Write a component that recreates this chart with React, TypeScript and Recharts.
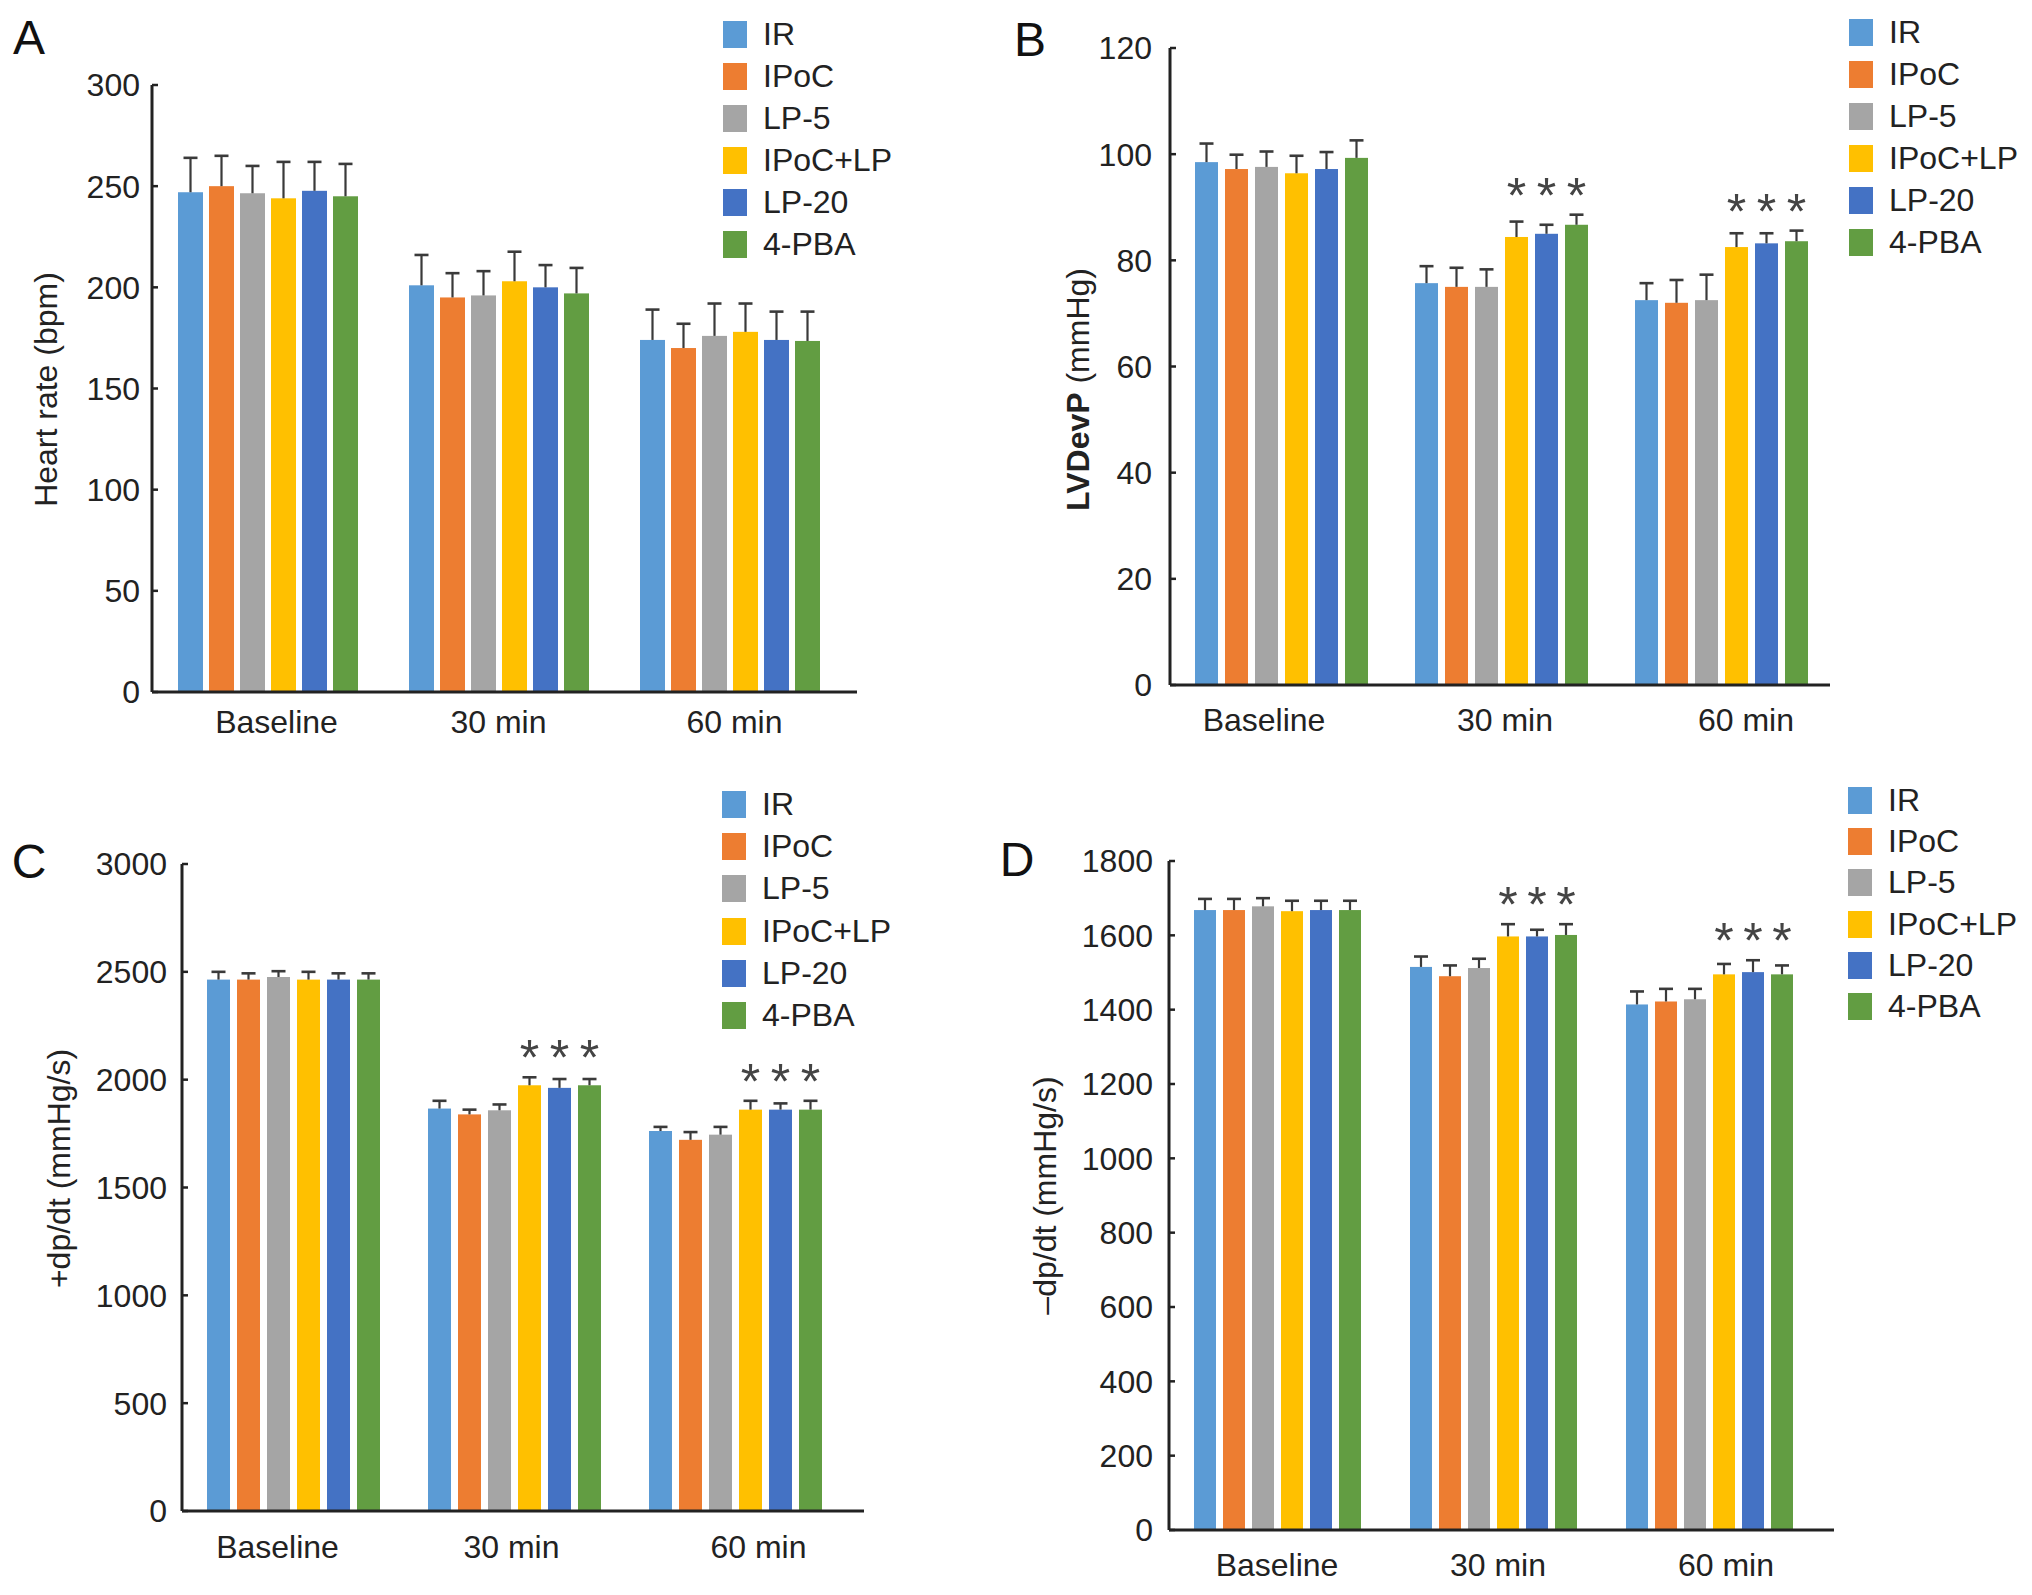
import React from 'react';
import { BarChart, Bar, XAxis, YAxis, Legend, Label } from 'recharts';

const FONT = '"Liberation Sans", Arial, Helvetica, sans-serif';
const INK = '#222222';
const WHISKER = '#3a3a3a';

const categories = ['Baseline', '30 min', '60 min'];
const groups = ['IR', 'IPoC', 'LP-5', 'IPoC+LP', 'LP-20', '4-PBA'];
const groupColors = ['#5B9BD5', '#ED7D31', '#A5A5A5', '#FFC000', '#4472C4', '#629D42'];
const starredGroups = ['IPoC+LP', 'LP-20', '4-PBA'];

// rows = categories, columns = groups
const heartRateMean = [
  [247, 250, 246.5, 244, 247.7, 245],
  [201, 195, 196, 203, 200, 197],
  [174, 170, 176, 178, 174, 173.5],
];
const heartRateSD = [
  [17, 15, 13.5, 18, 14.3, 16],
  [15, 12, 12, 14.6, 11, 12.6],
  [15, 12, 16, 14, 14, 14.5],
];
const heartRateStars = [false, false, false];
const heartRateTicks = [0, 50, 100, 150, 200, 250, 300];

const lvdevpMean = [
  [98.5, 97.2, 97.6, 96.4, 97.2, 99.3],
  [75.7, 75, 75, 84.4, 85, 86.7],
  [72.5, 72, 72.5, 82.5, 83.2, 83.6],
];
const lvdevpSD = [
  [3.5, 2.7, 2.9, 3.3, 3.2, 3.3],
  [3.2, 3.6, 3.3, 2.9, 1.7, 1.9],
  [3.2, 4.3, 4.8, 2.6, 1.9, 2.0],
];
const lvdevpStars = [false, true, true];
const lvdevpTicks = [0, 20, 40, 60, 80, 100, 120];

const plusDpMean = [
  [2464, 2464, 2476, 2464, 2464, 2464],
  [1866, 1839, 1858, 1974, 1962, 1974],
  [1762, 1721, 1745, 1861, 1861, 1861],
];
const plusDpSD = [
  [36, 29, 27, 36, 29, 29],
  [36, 22, 27, 37, 41, 29],
  [19, 36, 36, 41, 29, 41],
];
const plusDpStars = [false, true, true];
const plusDpTicks = [0, 500, 1000, 1500, 2000, 2500, 3000];

const minusDpMean = [
  [1668, 1668, 1678, 1665, 1668, 1668],
  [1515, 1490, 1512, 1597, 1597, 1601],
  [1414, 1422, 1428, 1495, 1501, 1495],
];
const minusDpSD = [
  [30, 30, 22, 28, 25, 25],
  [28, 29, 25, 33, 18, 29],
  [35, 34, 28, 28, 32, 24],
];
const minusDpStars = [false, true, true];
const minusDpTicks = [0, 200, 400, 600, 800, 1000, 1200, 1400, 1600, 1800];

function buildRows(mean: number[][], sd: number[][], stars: boolean[]) {
  return categories.map((name, i) => {
    const row: any = { name, starred: stars[i] };
    groups.forEach((g, j) => {
      row[g] = mean[i][j];
      row[g + ' sd'] = sd[i][j];
    });
    return row;
  });
}

// bar + upper whisker + significance star, all scaled off the bar the library laid out
function makeBarShape(key: string) {
  return (props: any) => {
    const { x, y, width, height, fill, payload } = props;
    const v = payload[key];
    const k = v ? height / v : 0;
    const base = y + height;
    const cx = x + width / 2;
    const ey = base - (v + payload[key + ' sd']) * k;
    let star = null;
    if (payload.starred && starredGroups.includes(key)) {
      const maxHi = Math.max(...starredGroups.map((g) => payload[g] + payload[g + ' sd']));
      const sy = base - maxHi * k;
      star = (
        <text x={cx} y={sy - 2} textAnchor="middle" fontSize={50} fill="#444" fontFamily={FONT}>
          *
        </text>
      );
    }
    return (
      <g>
        <rect x={x} y={y} width={width} height={height} fill={fill} />
        <line x1={cx} y1={y} x2={cx} y2={ey} stroke={WHISKER} strokeWidth={2.2} />
        <line x1={cx - 7} y1={ey} x2={cx + 7} y2={ey} stroke={WHISKER} strokeWidth={2.6} />
        {star}
      </g>
    );
  };
}

const panels = [
  {
    letter: 'A', letterX: 29, letterY: 38,
    left: 0, top: 0, width: 1016, height: 780,
    margin: { top: 85, right: 159, bottom: 48, left: 52 },
    rows: buildRows(heartRateMean, heartRateSD, heartRateStars),
    ticks: heartRateTicks, padRight: 12, catGap: 26, barGap: 6, tickMargin: 18,
    label: ['', 'Heart rate (bpm)'], labelDist: 106, labelDy: 1,
    xShift: [9, 0, 5], xDy: 30,
    legendLeft: 723, legendTop: 13, legendRow: 42,
  },
  {
    letter: 'B', letterX: 1030, letterY: 40,
    left: 1016, top: 0, width: 1016, height: 780,
    margin: { top: 48, right: 202, bottom: 55, left: 54 },
    rows: buildRows(lvdevpMean, lvdevpSD, lvdevpStars),
    ticks: lvdevpTicks, padRight: 0, catGap: 25, barGap: 7, tickMargin: 24,
    label: ['LVDevP', ' (mmHg)'], labelDist: 92, labelDy: 23,
    xShift: [-16, 5, 26], xDy: 35,
    legendLeft: 833, legendTop: 11, legendRow: 42,
  },
  {
    letter: 'C', letterX: 29, letterY: 862,
    left: 0, top: 780, width: 1016, height: 815,
    margin: { top: 84, right: 152, bottom: 44, left: 82 },
    rows: buildRows(plusDpMean, plusDpSD, plusDpStars),
    ticks: plusDpTicks, padRight: 19, catGap: 25, barGap: 7, tickMargin: 21,
    label: ['', '+dp/dt (mmHg/s)'], labelDist: 123, labelDy: -19,
    xShift: [-15, -2, 24], xDy: 36,
    legendLeft: 722, legendTop: 3, legendRow: 42.3,
  },
  {
    letter: 'D', letterX: 1017, letterY: 860,
    left: 1016, top: 780, width: 1016, height: 815,
    margin: { top: 81, right: 198, bottom: 25, left: 53 },
    rows: buildRows(minusDpMean, minusDpSD, minusDpStars),
    ticks: minusDpTicks, padRight: 17, catGap: 25, barGap: 7, tickMargin: 22,
    label: ['', '–dp/dt (mmHg/s)'], labelDist: 124, labelDy: 0,
    xShift: [0, 5, 17], xDy: 35,
    legendLeft: 832, legendTop: 0, legendRow: 41.2,
  },
];

function LegendList({ payload, rowH }: any) {
  const items = [...(payload || [])].sort(
    (a: any, b: any) => groups.indexOf(a.value) - groups.indexOf(b.value)
  );
  return (
    <div style={{ fontFamily: FONT, fontSize: 32, color: INK }}>
      {items.map((e: any) => (
        <div key={e.value} style={{ display: 'flex', alignItems: 'center', height: rowH, whiteSpace: 'nowrap' }}>
          <span style={{ display: 'inline-block', width: 24, height: 27, background: e.color, marginRight: 16 }} />
          <span>{e.value}</span>
        </div>
      ))}
    </div>
  );
}

function Panel({ p }: any) {
  const yAxisWidth = 100;
  const yMax = p.ticks[p.ticks.length - 1];
  return (
    <div style={{ position: 'absolute', left: p.left, top: p.top, width: p.width, height: p.height }}>
      <BarChart
        width={p.width}
        height={p.height}
        data={p.rows}
        margin={p.margin}
        barCategoryGap={p.catGap}
        barGap={p.barGap}
      >
        <XAxis
          dataKey="name"
          height={40}
          padding={{ left: 0, right: p.padRight }}
          axisLine={{ stroke: INK, strokeWidth: 3 }}
          tickLine={false}
          tickSize={0}
          tickMargin={0}
          interval={0}
          tick={(t: any) => (
            <text
              x={t.x + p.xShift[t.index]}
              y={t.y + p.xDy}
              textAnchor="middle"
              dominantBaseline="central"
              fontSize={32}
              fill={INK}
              fontFamily={FONT}
            >
              {t.payload.value}
            </text>
          )}
        />
        <YAxis
          width={yAxisWidth}
          domain={[0, yMax]}
          ticks={p.ticks}
          interval={0}
          allowDataOverflow
          axisLine={{ stroke: INK, strokeWidth: 3 }}
          tickLine={{ stroke: INK, strokeWidth: 2.5 }}
          tickSize={-6}
          tickMargin={p.tickMargin}
          tick={{ fontSize: 32, fill: INK, fontFamily: FONT }}
        >
          <Label
            content={(lp: any) => {
              const vb = lp.viewBox;
              const cx = vb.x + vb.width - p.labelDist;
              const cy = vb.y + vb.height / 2 + p.labelDy;
              return (
                <text
                  x={cx}
                  y={cy}
                  transform={`rotate(-90 ${cx} ${cy})`}
                  textAnchor="middle"
                  dominantBaseline="central"
                  fontSize={32}
                  fill={INK}
                  fontFamily={FONT}
                >
                  {p.label[0] ? <tspan fontWeight="bold">{p.label[0]}</tspan> : null}
                  <tspan>{p.label[1]}</tspan>
                </text>
              );
            }}
          />
        </YAxis>
        <Legend
          layout="vertical"
          align="center"
          verticalAlign="middle"
          wrapperStyle={{ left: p.legendLeft, top: p.legendTop, width: 'auto' }}
          content={(lp: any) => <LegendList payload={lp.payload} rowH={p.legendRow} />}
        />
        {groups.map((g, j) => (
          <Bar
            key={g}
            dataKey={g}
            name={g}
            fill={groupColors[j]}
            isAnimationActive={false}
            shape={makeBarShape(g)}
          />
        ))}
      </BarChart>
      <div
        style={{
          position: 'absolute',
          left: p.letterX - p.left,
          top: p.letterY - p.top,
          transform: 'translate(-50%, -50%)',
          fontFamily: FONT,
          fontSize: 48,
          lineHeight: 1,
          color: '#111',
        }}
      >
        {p.letter}
      </div>
    </div>
  );
}

export default function App() {
  return (
    <div style={{ position: 'absolute', left: 0, top: 0, width: 2032, height: 1595, background: '#fff', overflow: 'hidden' }}>
      {panels.map((p) => (
        <Panel key={p.letter} p={p} />
      ))}
    </div>
  );
}
